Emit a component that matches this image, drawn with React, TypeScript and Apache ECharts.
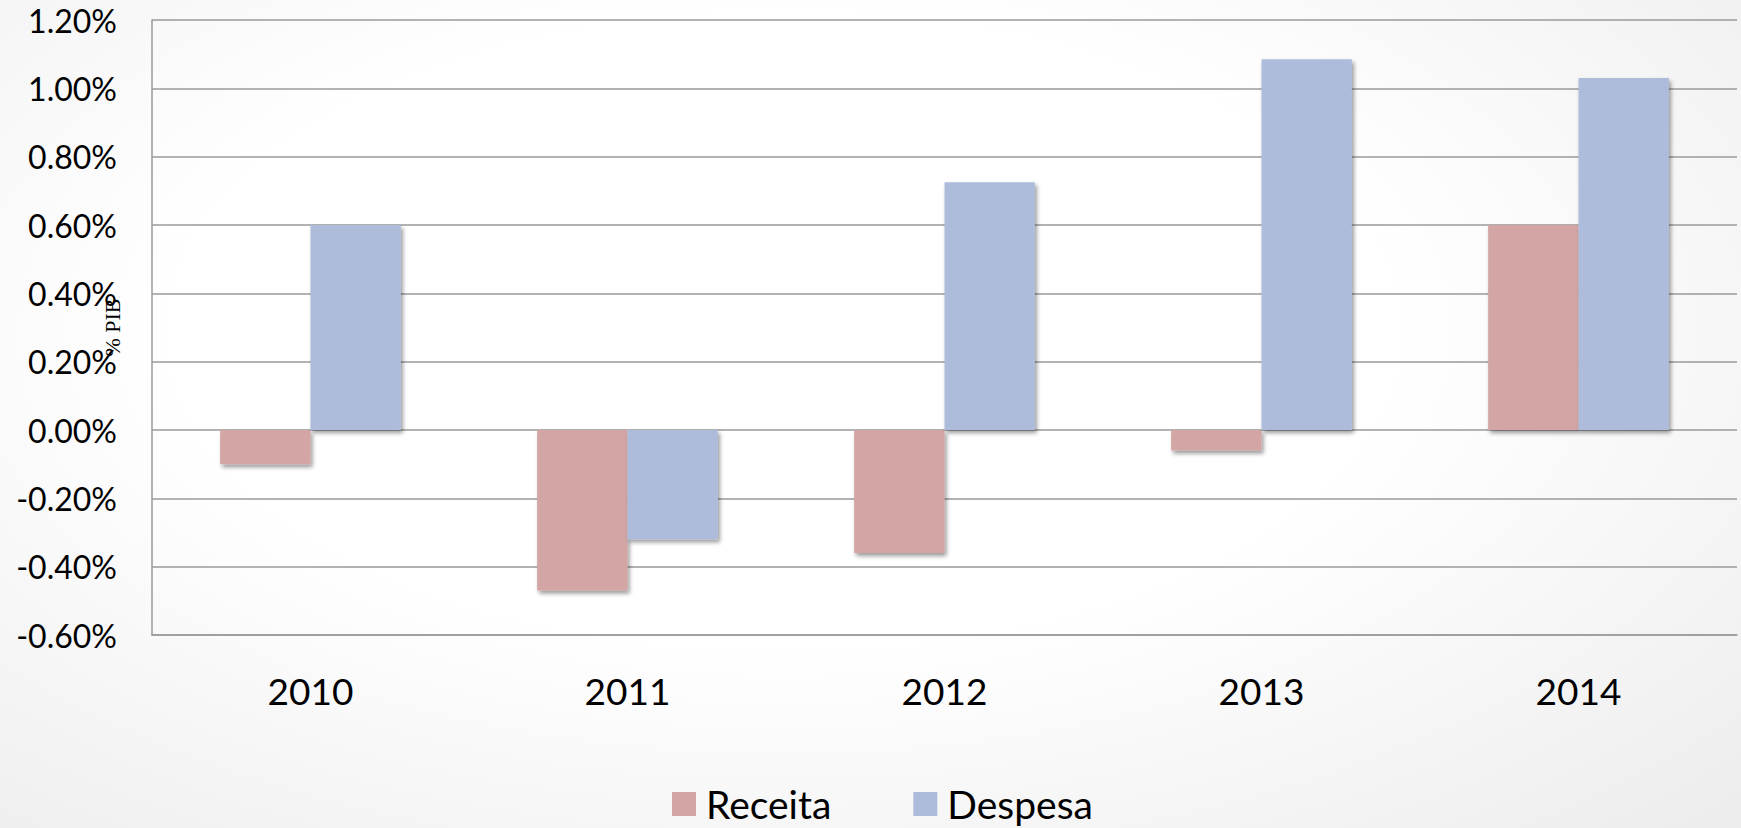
import React, { useEffect, useRef } from "react";
import * as echarts from "echarts";

const categories = ["2010", "2011", "2012", "2013", "2014"];
const receita = [-0.1, -0.47, -0.36, -0.06, 0.6];
const despesa = [0.6, -0.32, 0.725, 1.085, 1.03];
const seriesNames = ["Receita", "Despesa"];
const yAxisName = "% PIB";

export default function App() {
  const ref = useRef<HTMLDivElement>(null);
  useEffect(() => {
    if (!ref.current) return;
    const chart = echarts.init(ref.current, undefined, { renderer: "svg" });
    const shadow = {
      shadowColor: "rgba(0,0,0,0.4)",
      shadowBlur: 4,
      shadowOffsetX: 2,
      shadowOffsetY: 3,
    };
    chart.setOption({
      animation: false,
      backgroundColor: "transparent",
      grid: { left: 152, right: 4, top: 20, bottom: 193, containLabel: false, outerBoundsMode: "none" },
      legend: {
        data: seriesNames,
        left: 672,
        top: 784,
        padding: 0,
        icon: "rect",
        itemWidth: 24,
        itemHeight: 24,
        itemGap: 82,
        textStyle: { fontFamily: "Lato", fontSize: 39, color: "#000", lineHeight: 40, padding: [0, 0, 0, 5] },
      },
      xAxis: {
        type: "category",
        data: categories,
        axisLine: { onZero: false, lineStyle: { color: "#9a9a9a", width: 1.5 } },
        axisTick: { show: false },
        axisLabel: { fontFamily: "Lato", fontSize: 37, color: "#000", margin: 37 },
        splitLine: { show: false },
      },
      yAxis: {
        type: "value",
        min: -0.6,
        max: 1.2,
        interval: 0.2,
        name: yAxisName,
        nameLocation: "middle",
        nameRotate: 90,
        nameGap: 29,
        nameMoveOverlap: false,
        nameTextStyle: { fontFamily: "Liberation Serif", fontSize: 22, color: "#000" },
        axisLine: { show: true, lineStyle: { color: "#9a9a9a", width: 1.5 } },
        axisTick: { show: false },
        axisLabel: {
          fontFamily: "Lato",
          fontSize: 32,
          color: "#000",
          margin: 35,
          formatter: (v: number) => v.toFixed(2) + "%",
        },
        splitLine: { show: true, lineStyle: { color: "#9a9a9a", width: 1.5 } },
      },
      series: [
        {
          name: seriesNames[0],
          type: "bar",
          data: receita,
          barGap: "0%",
          barCategoryGap: "43%",
          itemStyle: { color: "#d3a5a5", ...shadow },
        },
        {
          name: seriesNames[1],
          type: "bar",
          data: despesa,
          barGap: "0%",
          barCategoryGap: "43%",
          itemStyle: { color: "#aebcdc", ...shadow },
        },
      ],
    });
    return () => chart.dispose();
  }, []);
  return (
    <div
      style={{
        position: "absolute",
        left: 0,
        top: 0,
        width: 1741,
        height: 828,
        background: "radial-gradient(ellipse at 45% 40%, #ffffff 45%, #ececec 100%)",
      }}
    >
      <div ref={ref} style={{ width: 1741, height: 828 }} />
    </div>
  );
}
